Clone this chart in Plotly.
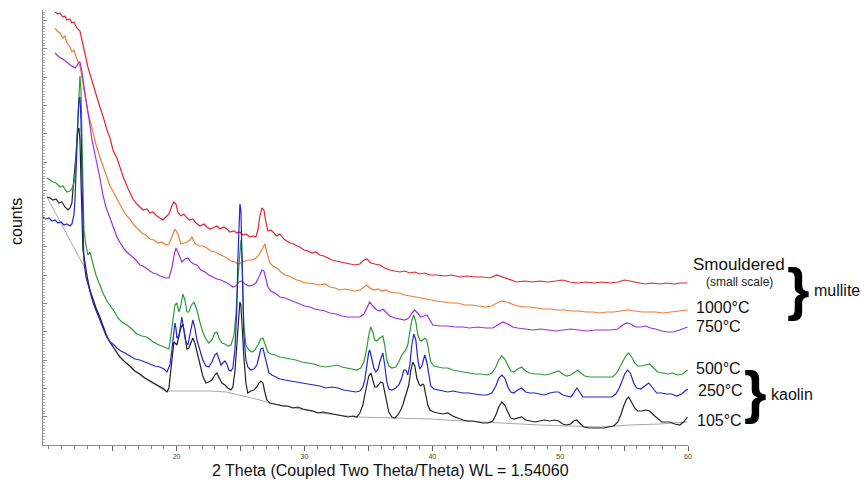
import plotly.graph_objects as go

# XRD patterns: (2-theta in degrees, intensity in counts), stacked with vertical offsets
SMOULDERED = [(10.49,433),(10.72,431),(10.88,432),(11.11,428),(11.27,429),(11.42,425),(11.66,426),(11.81,422),(11.97,423),(12.20,417),
    (12.44,414),(12.67,400),(12.83,390),(13.06,378),(13.22,371),(13.46,360),(13.69,350),(14.00,338),(14.24,329),(14.55,315),
    (14.79,307),(15.02,295),(15.33,287),(15.57,277),(15.80,269),(16.11,259),(16.35,253),(16.58,246),(16.89,241),(17.13,238),
    (17.37,235),(17.68,236),(17.91,232),(18.15,233),(18.46,229),(18.70,227),(18.93,225),(19.16,228),(19.40,231),(19.63,239),
    (19.79,243),(19.95,241),(20.10,233),(20.34,229),(20.57,231),(20.81,227),(21.04,225),(21.27,226),(21.51,222),(21.82,219),
    (22.13,221),(22.37,218),(22.60,216),(22.84,217),(23.15,219),(23.39,216),(23.70,218),(23.93,216),(24.17,213),(24.48,214),
    (24.71,212),(24.95,213),(25.18,210),(25.42,211),(25.73,208),(25.97,209),(26.20,208),(26.36,215),(26.51,229),(26.67,237),
    (26.83,235),(26.98,223),(27.14,214),(27.37,215),(27.61,212),(27.84,209),(28.08,211),(28.39,206),(28.62,204),(28.86,202),
    (29.17,201),(29.41,199),(29.64,198),(29.95,195),(30.27,194),(30.58,192),(30.89,193),(31.20,190),(31.52,189),(31.83,187),
    (32.14,185),(32.46,184),(32.77,183),(33.16,182),(33.55,181),(33.94,180),(34.33,181),(34.65,185),(34.88,186),(35.19,182),
    (35.50,181),(35.89,180),(36.28,177),(36.67,175),(37.07,174),(37.46,173),(37.85,174),(38.24,172),(38.63,173),(39.02,171),
    (39.41,172),(39.81,170),(40.35,170),(40.98,169),(41.53,170),(42.15,168),(42.70,169),(43.33,168),(43.95,168),(44.50,167),
    (45.05,170),(45.51,168),(46.06,165),(46.60,163),(47.23,164),(47.86,163),(48.40,164),(49.03,163),(49.66,164),(50.20,165),
    (50.75,163),(51.38,162),(52.01,163),(52.63,162),(53.26,163),(53.89,162),(54.51,163),(55.05,165),(55.44,164),(56.07,162),
    (56.62,161),(57.16,162),(57.79,161),(58.34,162),(58.88,161),(59.42,162),(59.96,162)]

T1000 = [(10.49,417),(10.65,414),(10.88,412),(11.11,407),(11.27,409),(11.42,402),(11.66,398),(11.81,393),(11.97,395),(12.13,388),
    (12.28,383),(12.44,379),(12.60,368),(12.75,357),(12.91,345),(13.06,333),(13.30,321),(13.46,312),(13.69,301),(14.00,288),
    (14.32,277),(14.55,268),(14.79,259),(15.10,252),(15.41,244),(15.72,237),(16.04,230),(16.35,226),(16.66,220),(16.97,216),
    (17.29,212),(17.60,210),(17.91,206),(18.23,205),(18.54,202),(18.85,203),(19.16,200),(19.40,201),(19.63,209),(19.87,216),
    (20.10,211),(20.34,201),(20.57,202),(20.81,203),(21.04,205),(21.20,208),(21.43,202),(21.74,199),(22.05,199),(22.37,197),
    (22.68,194),(22.99,193),(23.31,191),(23.62,189),(23.93,187),(24.25,184),(24.56,183),(24.79,181),(25.03,182),(25.26,183),
    (25.57,185),(25.89,185),(26.20,187),(26.44,190),(26.67,196),(26.90,201),(27.06,193),(27.29,182),(27.53,179),(27.84,177),
    (28.16,173),(28.47,170),(28.78,169),(29.09,167),(29.41,165),(29.72,164),(30.03,162),(30.42,162),(30.81,161),(31.20,160),
    (31.60,161),(31.99,158),(32.38,157),(32.77,155),(33.16,156),(33.55,155),(33.94,154),(34.33,155),(34.65,158),(34.88,160),
    (35.11,157),(35.43,155),(35.74,156),(36.05,154),(36.36,155),(36.67,153),(37.07,152),(37.46,152),(37.85,150),(38.24,149),
    (38.63,148),(39.02,147),(39.41,146),(39.81,145),(40.35,144),(40.90,143),(41.45,142),(41.99,142),(42.54,140),(43.09,140),
    (43.64,139),(44.19,138),(44.66,139),(45.05,142),(45.44,144),(45.83,143),(46.21,141),(46.68,139),(47.15,138),(47.62,138),
    (48.17,137),(48.72,136),(49.27,136),(49.81,135),(50.36,135),(50.91,134),(51.46,134),(52.01,133),(52.55,133),(53.10,132),
    (53.65,133),(54.19,133),(54.74,134),(55.28,135),(55.83,134),(56.38,133),(56.93,133),(57.47,133),(58.02,132),(58.57,133),
    (59.11,134),(59.96,135)]

T750 = [(10.49,392),(10.72,389),(10.96,387),(11.19,385),(11.42,383),(11.66,380),(11.89,378),(12.05,377),(12.20,379),(12.36,383),
    (12.44,383),(12.60,373),(12.75,359),(12.91,347),(13.06,335),(13.22,320),(13.38,305),(13.61,292),(13.77,280),(14.00,267),
    (14.24,250),(14.47,238),(14.79,227),(15.02,218),(15.33,208),(15.64,201),(15.96,195),(16.27,191),(16.58,188),(16.89,184),
    (17.13,180),(17.37,179),(17.68,176),(17.91,174),(18.15,172),(18.46,171),(18.70,169),(18.93,168),(19.16,167),(19.40,167),
    (19.63,177),(19.79,189),(19.95,197),(20.10,193),(20.26,187),(20.41,183),(20.65,186),(20.88,187),(21.12,183),(21.35,181),
    (21.59,180),(21.90,175),(22.21,173),(22.52,170),(22.84,168),(23.15,166),(23.47,165),(23.78,163),(24.09,161),(24.40,158),
    (24.64,159),(24.87,163),(25.10,164),(25.34,161),(25.66,159),(25.97,160),(26.20,162),(26.44,168),(26.67,175),(26.83,174),
    (26.98,166),(27.14,158),(27.37,154),(27.69,152),(28.08,148),(28.47,147),(28.86,145),(29.25,143),(29.64,141),(30.03,139),
    (30.42,138),(30.81,136),(31.20,135),(31.60,134),(31.99,132),(32.46,131),(32.93,129),(33.40,128),(33.87,128),(34.33,128),
    (34.65,131),(34.96,139),(35.11,143),(35.35,139),(35.66,135),(35.89,134),(36.13,136),(36.36,133),(36.67,129),(37.07,127),
    (37.46,126),(37.85,125),(38.16,127),(38.40,132),(38.63,135),(38.87,131),(39.10,128),(39.34,129),(39.57,130),(39.81,125),
    (40.04,120),(40.59,119),(41.21,119),(41.84,118),(42.39,118),(42.93,117),(43.56,118),(44.19,117),(44.73,117),(45.12,120),
    (45.51,123),(45.91,121),(46.29,118),(46.68,117),(47.23,116),(47.86,115),(48.48,116),(49.03,115),(49.66,114),(50.20,115),
    (50.83,116),(51.46,115),(52.08,114),(52.71,115),(53.33,115),(53.96,115),(54.51,116),(54.89,120),(55.20,122),(55.52,121),
    (55.91,118),(56.30,118),(56.69,119),(57.08,117),(57.47,116),(57.94,114),(58.41,113),(58.88,113),(59.35,115),(59.96,118)]

T500 = [(9.86,267),(10.09,265),(10.33,263),(10.57,262),(10.88,258),(11.11,259),(11.42,253),(11.66,254),(11.81,256),(11.97,262),
    (12.05,270),(12.13,285),(12.20,305),(12.28,335),(12.36,360),(12.44,369),(12.52,355),(12.60,305),(12.67,245),(12.75,215),
    (12.91,200),(13.06,190),(13.22,193),(13.46,180),(13.69,170),(14.00,160),(14.24,152),(14.55,144),(14.79,140),(15.10,134),
    (15.41,127),(15.72,123),(16.11,120),(16.50,116),(16.89,111),(17.29,109),(17.68,108),(18.07,104),(18.46,101),(18.85,99),
    (19.16,97),(19.40,96),(19.55,109),(19.71,127),(19.87,140),(20.02,142),(20.18,133),(20.34,140),(20.49,151),(20.65,145),
    (20.81,133),(20.96,133),(21.12,139),(21.35,143),(21.59,135),(21.82,123),(22.05,113),(22.29,106),(22.52,102),(22.76,105),
    (22.99,112),(23.15,113),(23.31,107),(23.54,102),(23.78,101),(24.01,99),(24.25,100),(24.48,109),(24.64,130),(24.79,165),
    (24.95,200),(25.03,205),(25.10,190),(25.18,155),(25.26,120),(25.42,100),(25.66,95),(25.89,93),(26.12,95),(26.36,100),
    (26.59,106),(26.75,107),(26.90,102),(27.14,93),(27.37,91),(27.69,90),(28.08,88),(28.47,87),(28.86,86),(29.33,85),
    (29.80,83),(30.27,82),(30.74,81),(31.20,79),(31.68,78),(32.14,79),(32.54,80),(32.93,78),(33.32,77),(33.71,76),
    (34.10,75),(34.41,77),(34.65,83),(34.88,97),(35.03,110),(35.19,118),(35.35,113),(35.50,105),(35.66,104),(35.89,107),
    (36.13,109),(36.28,100),(36.44,85),(36.60,79),(36.83,77),(37.15,78),(37.38,83),(37.61,90),(37.77,92),(37.93,95),
    (38.08,100),(38.24,115),(38.40,125),(38.55,130),(38.71,123),(38.87,110),(39.02,105),(39.18,104),(39.41,107),(39.57,105),
    (39.73,95),(39.88,83),(40.12,79),(40.43,78),(40.82,77),(41.21,77),(41.60,75),(41.99,74),(42.39,73),(42.85,72),
    (43.33,71),(43.80,71),(44.27,70),(44.66,72),(44.97,78),(45.20,85),(45.44,89),(45.67,86),(45.91,79),(46.14,74),
    (46.37,73),(46.68,76),(46.99,78),(47.30,74),(47.62,72),(48.01,71),(48.40,71),(48.79,70),(49.18,71),(49.57,73),
    (49.89,74),(50.20,71),(50.51,69),(50.83,70),(51.14,73),(51.38,75),(51.61,72),(51.92,69),(52.32,68),(52.79,68),
    (53.26,68),(53.73,68),(54.11,68),(54.42,72),(54.66,78),(54.89,84),(55.13,89),(55.36,92),(55.59,88),(55.83,82),
    (56.07,79),(56.38,79),(56.69,80),(57.00,81),(57.31,77),(57.63,73),(58.02,72),(58.41,71),(58.81,72),(59.19,70),
    (59.58,71),(59.96,75)]

T250 = [(9.55,228),(9.78,226),(10.02,227),(10.25,224),(10.49,225),(10.72,222),(10.96,223),(11.19,220),(11.42,221),(11.66,219),
    (11.81,221),(11.97,230),(12.05,245),(12.13,265),(12.20,295),(12.28,325),(12.36,345),(12.44,348),(12.52,325),(12.60,265),
    (12.67,215),(12.75,185),(12.91,168),(13.06,160),(13.30,150),(13.53,140),(13.77,133),(14.00,125),(14.24,117),(14.47,110),
    (14.79,103),(15.02,101),(15.33,97),(15.64,94),(15.96,92),(16.35,89),(16.74,86),(17.13,85),(17.52,83),(17.91,81),
    (18.30,79),(18.70,78),(19.01,76),(19.24,73),(19.48,80),(19.63,95),(19.79,115),(19.87,122),(19.95,117),(20.02,107),
    (20.18,109),(20.34,123),(20.41,128),(20.57,115),(20.73,103),(20.88,100),(21.04,110),(21.20,123),(21.27,125),(21.43,117),
    (21.59,105),(21.82,95),(22.05,85),(22.29,79),(22.52,78),(22.76,83),(22.99,90),(23.15,92),(23.31,85),(23.47,80),
    (23.62,82),(23.78,84),(23.93,81),(24.09,75),(24.25,74),(24.40,77),(24.56,95),(24.71,135),(24.79,185),(24.87,225),
    (24.95,241),(25.03,235),(25.10,195),(25.18,145),(25.26,110),(25.42,85),(25.57,78),(25.81,75),(26.05,76),(26.28,80),
    (26.44,88),(26.59,96),(26.75,97),(26.90,89),(27.06,78),(27.22,72),(27.45,70),(27.77,68),(28.08,66),(28.47,65),
    (28.86,64),(29.33,63),(29.80,62),(30.27,61),(30.74,60),(31.20,59),(31.68,57),(32.14,58),(32.61,57),(33.08,55),
    (33.55,54),(34.02,53),(34.33,54),(34.57,58),(34.72,65),(34.88,80),(35.03,93),(35.11,95),(35.27,87),(35.43,77),
    (35.58,73),(35.74,75),(35.89,83),(36.05,91),(36.13,92),(36.28,80),(36.44,63),(36.60,56),(36.83,55),(37.15,57),
    (37.38,60),(37.61,67),(37.77,75),(37.93,75),(38.08,70),(38.24,80),(38.40,100),(38.55,111),(38.71,105),(38.87,85),
    (39.02,76),(39.18,79),(39.34,88),(39.41,90),(39.57,83),(39.73,68),(39.88,59),(40.12,56),(40.43,55),(40.82,54),
    (41.21,53),(41.60,54),(41.99,53),(42.39,52),(42.85,52),(43.33,51),(43.80,50),(44.27,50),(44.66,52),(44.97,59),
    (45.20,67),(45.44,70),(45.67,67),(45.91,58),(46.14,53),(46.37,52),(46.68,55),(46.99,57),(47.30,53),(47.62,52),
    (48.01,52),(48.40,51),(48.79,50),(49.18,52),(49.57,53),(49.89,53),(50.20,50),(50.51,49),(50.83,48),(51.06,52),
    (51.30,57),(51.53,53),(51.77,48),(52.16,48),(52.63,48),(53.10,48),(53.57,48),(54.04,48),(54.35,51),(54.58,56),
    (54.82,63),(55.05,71),(55.28,75),(55.52,71),(55.75,62),(55.98,57),(56.30,56),(56.61,59),(56.93,62),(57.24,57),
    (57.55,52),(57.94,52),(58.33,51),(58.72,51),(59.11,49),(59.50,51),(59.96,56)]

T105 = [(9.86,248),(10.09,247),(10.33,245),(10.57,246),(10.80,242),(11.03,243),(11.27,238),(11.50,235),(11.66,237),(11.81,242),
    (11.89,255),(12.05,275),(12.13,290),(12.20,305),(12.28,315),(12.36,317),(12.44,305),(12.52,265),(12.60,215),(12.67,195),
    (12.83,183),(12.99,169),(13.22,155),(13.46,145),(13.69,137),(14.00,128),(14.32,115),(14.55,108),(14.87,101),(15.18,95),
    (15.57,88),(15.96,83),(16.35,79),(16.74,74),(17.13,71),(17.52,67),(17.91,64),(18.30,61),(18.70,58),(19.01,56),
    (19.24,53),(19.40,57),(19.55,75),(19.71,95),(19.79,103),(19.95,101),(20.02,100),(20.18,109),(20.34,117),(20.49,121),
    (20.65,110),(20.81,96),(20.96,97),(21.12,103),(21.27,107),(21.43,102),(21.59,93),(21.82,81),(22.05,69),(22.29,62),
    (22.52,63),(22.76,65),(22.99,70),(23.15,72),(23.31,68),(23.54,62),(23.78,60),(24.01,57),(24.25,55),(24.40,58),
    (24.56,73),(24.71,100),(24.87,130),(24.95,143),(25.03,140),(25.10,120),(25.26,88),(25.42,62),(25.57,52),(25.81,54),
    (26.05,55),(26.28,58),(26.44,62),(26.59,64),(26.75,62),(26.90,53),(27.06,45),(27.29,42),(27.61,41),(27.92,40),
    (28.31,39),(28.70,39),(29.09,37),(29.49,38),(29.88,36),(30.27,35),(30.66,34),(31.05,32),(31.44,33),(31.83,32),
    (32.23,31),(32.61,30),(33.01,29),(33.40,28),(33.79,29),(34.10,28),(34.33,32),(34.57,40),(34.72,50),(34.88,60),
    (35.03,69),(35.19,72),(35.35,65),(35.50,58),(35.66,58),(35.82,61),(35.97,63),(36.13,62),(36.28,52),(36.44,40),
    (36.60,33),(36.83,28),(37.07,27),(37.30,30),(37.53,35),(37.69,40),(37.85,47),(38.01,53),(38.16,60),(38.32,75),
    (38.48,83),(38.63,79),(38.79,67),(38.95,61),(39.10,59),(39.26,61),(39.34,60),(39.49,50),(39.65,40),(39.81,35),
    (40.12,33),(40.43,32),(40.82,31),(41.21,32),(41.60,29),(41.99,27),(42.39,25),(42.78,24),(43.17,24),(43.56,23),
    (43.95,22),(44.35,22),(44.73,24),(44.97,30),(45.20,38),(45.44,43),(45.67,40),(45.91,33),(46.14,27),(46.37,26),
    (46.68,27),(46.99,28),(47.30,25),(47.62,24),(48.01,23),(48.40,24),(48.79,25),(49.18,24),(49.57,25),(49.89,24),
    (50.20,21),(50.51,20),(50.83,21),(51.06,24),(51.30,25),(51.53,22),(51.85,18),(52.24,17),(52.63,17),(53.02,17),
    (53.41,17),(53.80,18),(54.19,19),(54.51,23),(54.74,30),(54.97,39),(55.20,46),(55.36,48),(55.59,43),(55.83,37),
    (56.07,34),(56.38,34),(56.69,35),(57.00,34),(57.31,30),(57.63,26),(57.94,23),(58.26,23),(58.57,23),(58.96,21),
    (59.35,20),(59.66,23),(59.96,28)]

# fitted background under the 105 °C pattern
BACKGROUND_105 = [(9.86,248),(12.91,175),(13.22,155),(14.00,127),(14.79,103),(15.57,88),(16.58,75),(17.68,65),(18.46,59),
    (19.16,54),(21.04,54),(22.60,54),(23.93,53),(25.34,49),(26.51,45),(27.29,42),(28.86,38),(31.20,32),(34.10,28),
    (37.07,27),(39.81,26),(42.39,24),(45.28,22),(48.40,20),(50.75,19),(53.10,18),(55.44,20),(57.79,21),(59.96,23)]

SERIES_LABELS = ["Smouldered", "1000°C", "750°C", "500°C", "250°C", "105°C"]
GROUP_LABELS = ["mullite", "kaolin"]
X_TICKS = [15, 20, 25, 30, 35, 40, 45, 50, 55, 60]
X_TICK_TEXT = ["", "20", "", "30", "", "40", "", "50", "", "60"]

COLORS = {
    "Smouldered": "#e3262f",
    "1000°C": "#ef7d35",
    "750°C": "#9b32dc",
    "500°C": "#2e9a36",
    "250°C": "#2424cc",
    "105°C": "#222222",
}
DATA = dict(zip(SERIES_LABELS, [SMOULDERED, T1000, T750, T500, T250, T105]))

FONT = "Arial, Liberation Sans, sans-serif"

fig = go.Figure()

fig.add_trace(go.Scatter(
    x=[p[0] for p in BACKGROUND_105], y=[p[1] for p in BACKGROUND_105],
    mode="lines", line=dict(color="#a8a8a8", width=1), hoverinfo="skip", showlegend=False,
))

for name in ["Smouldered", "1000°C", "750°C", "105°C", "500°C", "250°C"]:
    pts = DATA[name]
    fig.add_trace(go.Scatter(
        x=[p[0] for p in pts], y=[p[1] for p in pts], name=name,
        mode="lines", line=dict(color=COLORS[name], width=1.2), showlegend=False,
    ))

# plot area in pixels: x 43..688, y 10..445
PX_L, PX_R, PX_T, PX_B = 43, 688, 10, 445


def px(x):
    return (x - PX_L) / (PX_R - PX_L)


def py(y):
    return (PX_B - y) / (PX_B - PX_T)


annotations = []

label_pos = {
    "Smouldered": (691, 264),
    "1000°C": (694, 307),
    "750°C": (694, 326),
    "500°C": (694, 368),
    "250°C": (696, 390),
    "105°C": (695, 420),
}
for name in SERIES_LABELS:
    x, y = label_pos[name]
    annotations.append(dict(x=px(x), y=py(y), xref="paper", yref="paper", text=name,
                            showarrow=False, xanchor="left", yanchor="middle",
                            font=dict(family=FONT, size=17 if name == "Smouldered" else 16, color="#111111")))

annotations.append(dict(x=px(739), y=py(282), xref="paper", yref="paper", text="(small scale)",
                        showarrow=False, xanchor="center", yanchor="middle",
                        font=dict(family=FONT, size=12, color="#222222")))

# curly braces grouping the patterns
annotations.append(dict(x=px(798), y=py(288), xref="paper", yref="paper", text="<b>}</b>",
                        showarrow=False, xanchor="center", yanchor="middle",
                        font=dict(family=FONT, size=58, color="#000000")))
annotations.append(dict(x=px(755), y=py(391), xref="paper", yref="paper", text="<b>}</b>",
                        showarrow=False, xanchor="center", yanchor="middle",
                        font=dict(family=FONT, size=58, color="#000000")))
annotations.append(dict(x=px(812), y=py(290), xref="paper", yref="paper", text=GROUP_LABELS[0],
                        showarrow=False, xanchor="left", yanchor="middle",
                        font=dict(family=FONT, size=16, color="#111111")))
annotations.append(dict(x=px(769), y=py(394), xref="paper", yref="paper", text=GROUP_LABELS[1],
                        showarrow=False, xanchor="left", yanchor="middle",
                        font=dict(family=FONT, size=16, color="#111111")))

annotations.append(dict(x=px(16), y=py(222), xref="paper", yref="paper", text="counts",
                        showarrow=False, textangle=-90, xanchor="center", yanchor="middle",
                        font=dict(family=FONT, size=16, color="#111111")))
annotations.append(dict(x=px(390), y=py(470), xref="paper", yref="paper",
                        text="2 Theta (Coupled Two Theta/Theta) WL = 1.54060",
                        showarrow=False, xanchor="center", yanchor="middle",
                        font=dict(family=FONT, size=16, color="#111111")))

fig.update_layout(
    width=864, height=486,
    margin=dict(l=PX_L, r=864 - PX_R, t=PX_T, b=486 - PX_B),
    paper_bgcolor="white", plot_bgcolor="white",
    font=dict(family=FONT),
    annotations=annotations,
    showlegend=False,
)

fig.update_xaxes(
    range=[9.55, 60.0], showgrid=False, zeroline=False,
    showline=True, linecolor="#8f8f8f", linewidth=1,
    tickmode="array", tickvals=X_TICKS, ticktext=X_TICK_TEXT,
    ticks="outside", ticklen=5, tickcolor="#666666", tickwidth=1,
    tickfont=dict(family=FONT, size=7, color="#444444"),
    minor=dict(dtick=1, tick0=0, ticks="outside", ticklen=3, tickcolor="#777777", showgrid=False),
)
fig.update_yaxes(
    range=[0, 435], showgrid=False, zeroline=False,
    showline=True, linecolor="#8f8f8f", linewidth=1,
    showticklabels=False, tick0=0, dtick=28.3,
    ticks="inside", ticklen=4, tickcolor="#888888", tickwidth=1,
    minor=dict(dtick=2.83, ticks="inside", ticklen=2, tickcolor="#aaaaaa", showgrid=False),
)

fig.write_html("out.html")
